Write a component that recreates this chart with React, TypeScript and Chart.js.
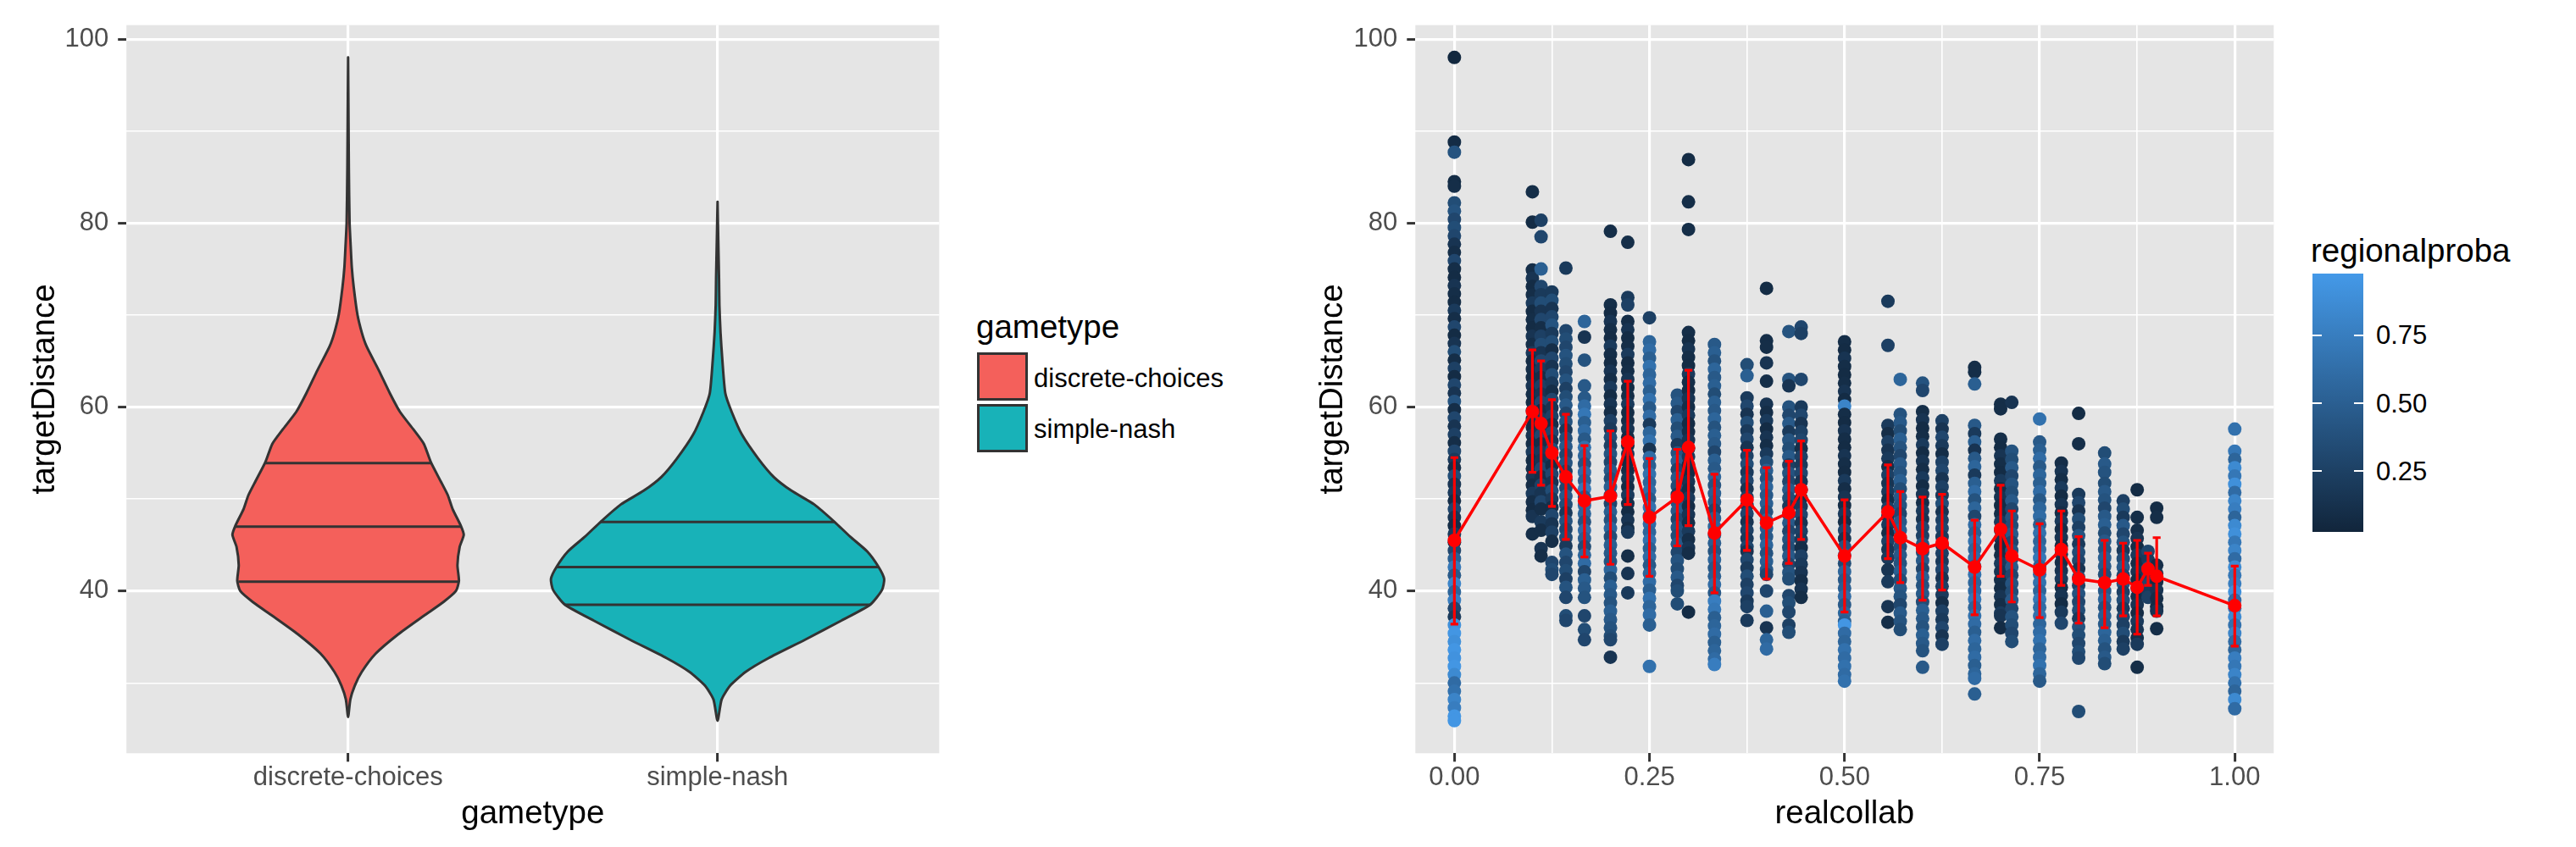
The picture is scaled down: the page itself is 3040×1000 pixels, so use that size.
import React, { useEffect, useRef } from 'react';
import { Chart, registerables } from 'chart.js';

Chart.register(...registerables);

const FONT = "'Liberation Sans', Arial, Helvetica, sans-serif";
const TICK_COLOR = '#4D4D4D';
const OUTLINE = '#333333';
const PANEL_BG = '#E5E5E5';
const MAJOR_W = 3.2;
const MINOR_W = 1.6;

// ---------- shared y axis ----------
const Y_MIN = 22.36;
const Y_MAX = 101.52;
const yGridValues = [30, 40, 50, 60, 70, 80, 90, 100];
const yLabelValues = [40, 60, 80, 100];

// ---------- left panel: violins ----------
const gameTypes = ['discrete-choices', 'simple-nash'];
const violinColors = ['#F4605B', '#18B2B8'];

const dcDensityY = [98.0, 92.0, 86.0, 80.0, 77.5, 75.2, 73.1, 70.1, 68.1, 66.6, 64.0, 61.5, 59.5, 57.5, 56.0, 54.0, 51.9, 50.4, 48.9, 47.1, 46.1, 44.8, 42.8, 41.1, 40.0, 38.8, 37.3, 35.3, 33.2, 31.2, 29.7, 28.2, 26.3];
const dcHalfWidth = [0.0, 0.001, 0.002, 0.004, 0.007, 0.010, 0.015, 0.025, 0.037, 0.050, 0.083, 0.113, 0.140, 0.178, 0.205, 0.224, 0.251, 0.270, 0.283, 0.305, 0.313, 0.302, 0.296, 0.300, 0.292, 0.258, 0.205, 0.136, 0.075, 0.037, 0.018, 0.006, 0.0];
const dcQuantiles = [53.9, 47.0, 41.0];
const dcQuantileHW = [0.224, 0.307, 0.297];

const snDensityY = [82.3, 78.0, 74.0, 71.1, 68.1, 65.1, 61.5, 59.5, 57.0, 54.4, 52.4, 50.9, 49.4, 47.5, 45.9, 44.3, 42.6, 41.3, 40.1, 38.5, 36.8, 34.7, 32.7, 31.2, 29.7, 28.2, 25.9];
const snHalfWidth = [0.0, 0.002, 0.004, 0.005, 0.008, 0.013, 0.021, 0.038, 0.066, 0.110, 0.152, 0.200, 0.262, 0.317, 0.359, 0.405, 0.436, 0.451, 0.445, 0.413, 0.336, 0.237, 0.138, 0.076, 0.034, 0.011, 0.0];
const snQuantiles = [47.5, 42.6, 38.5];
const snQuantileHW = [0.317, 0.436, 0.413];

// ---------- right panel: scatter ----------
const xGridValues = [0, 0.125, 0.25, 0.375, 0.5, 0.625, 0.75, 0.875, 1];
const xLabelValues = [0, 0.25, 0.5, 0.75, 1];

const collabLevels = [0, 0.1, 0.1111, 0.125, 0.1429, 0.1667, 0.2, 0.2222, 0.25, 0.2857, 0.3, 0.3333, 0.375, 0.4, 0.4286, 0.4444, 0.5, 0.5556, 0.5714, 0.6, 0.625, 0.6667, 0.7, 0.7143, 0.75, 0.7778, 0.8, 0.8333, 0.8571, 0.875, 0.8889, 0.9, 1];

// [targetDistance, regionalproba] per collab level
const pointsByLevel: number[][][] = [
  [[98.0,.05],[88.8,.08],[87.7,.4],[84.5,.08],[84.0,.1],[82.2,.35],[81.3,.4],[80.4,.3],[79.5,.35],[78.6,.3],[77.7,.15],[76.8,.1],[75.9,.3],[75.0,.1],[74.1,.08],[73.2,.15],[72.3,.1],[71.4,.08],[70.5,.2],[69.6,.1],[68.7,.3],[67.8,.08],[66.9,.15],[66.0,.35],[65.1,.1],[64.2,.25],[63.3,.08],[62.4,.3],[61.5,.15],[60.6,.4],[59.7,.1],[58.8,.3],[57.9,.15],[57.0,.25],[56.1,.1],[55.2,.3],[54.3,.2],[53.4,.1],[52.5,.35],[51.6,.15],[50.7,.2],[49.8,.1],[48.9,.3],[48.0,.15],[47.1,.08],[46.2,.2],[45.3,.1],[44.4,.3],[43.5,.5],[42.6,.7],[41.7,.45],[40.8,.8],[39.9,.55],[39.0,.75],[38.1,.3],[37.2,.2],[36.3,.9],[35.4,.95],[34.5,.9],[33.6,.95],[32.7,.92],[31.8,.95],[30.9,.85],[30.0,.6],[29.1,.65],[28.2,.8],[27.3,.75],[26.4,.95],[25.9,.95]],
  [[83.4,.1],[80.1,.08],[74.9,.1],[74.0,.15],[73.1,.08],[72.2,.1],[71.3,.2],[70.4,.08],[69.5,.1],[68.6,.08],[67.7,.15],[66.8,.1],[65.9,.2],[65.0,.08],[64.1,.1],[63.2,.08],[62.3,.15],[61.4,.1],[60.5,.08],[59.6,.2],[58.7,.1],[57.8,.08],[56.9,.15],[56.0,.1],[55.1,.2],[54.2,.08],[53.3,.1],[52.4,.15],[51.5,.08],[50.6,.2],[49.7,.1],[48.8,.08],[48.1,.15],[46.2,.1]],
  [[80.3,.25],[78.5,.3],[75.0,.5],[73.1,.3],[72.2,.2],[71.3,.35],[70.4,.15],[69.5,.3],[68.6,.1],[67.7,.25],[66.8,.35],[65.9,.15],[65.0,.3],[64.1,.2],[63.2,.1],[62.3,.25],[61.4,.15],[60.5,.3],[59.6,.1],[58.7,.2],[57.8,.15],[56.9,.3],[56.0,.1],[55.1,.2],[54.2,.15],[53.3,.3],[52.4,.1],[51.5,.25],[50.6,.15],[49.7,.3],[48.9,.1],[47.5,.2],[46.6,.1],[44.6,.15],[43.8,.1]],
  [[72.5,.2],[71.6,.35],[70.7,.15],[69.8,.3],[68.9,.4],[68.0,.2],[67.1,.35],[66.2,.1],[65.3,.3],[64.4,.15],[63.5,.35],[62.6,.2],[61.7,.1],[60.8,.3],[59.9,.15],[59.0,.25],[58.1,.1],[57.2,.3],[56.3,.15],[55.4,.35],[54.5,.2],[53.6,.1],[52.7,.3],[51.8,.15],[50.9,.35],[50.0,.2],[49.1,.1],[48.2,.3],[47.3,.15],[46.4,.25],[45.4,.1],[43.1,.3],[42.3,.35],[41.8,.3]],
  [[75.1,.2],[68.3,.3],[67.4,.35],[66.5,.3],[65.6,.4],[64.7,.35],[63.8,.3],[62.9,.4],[62.0,.25],[61.1,.35],[60.2,.45],[59.3,.3],[58.4,.4],[57.5,.2],[56.6,.35],[55.7,.45],[54.8,.3],[53.9,.4],[53.0,.25],[52.1,.35],[51.2,.3],[50.3,.45],[49.4,.35],[48.5,.2],[47.6,.4],[46.7,.3],[45.8,.35],[44.9,.2],[44.0,.4],[43.1,.3],[42.2,.35],[41.3,.25],[40.4,.4],[39.3,.3],[37.3,.35],[36.8,.3]],
  [[69.3,.55],[67.6,.15],[65.1,.4],[62.3,.45],[61.0,.45],[60.1,.6],[59.2,.7],[58.3,.5],[57.4,.6],[56.5,.45],[55.6,.65],[54.7,.55],[53.8,.4],[52.9,.6],[52.0,.5],[51.1,.7],[50.2,.45],[49.3,.6],[48.4,.55],[47.5,.4],[46.6,.6],[45.7,.5],[44.8,.35],[43.9,.55],[43.0,.6],[42.1,.3],[41.2,.5],[40.3,.45],[39.3,.4],[37.3,.3],[35.8,.35],[34.7,.3]],
  [[79.1,.1],[71.1,.1],[70.2,.08],[69.3,.15],[68.4,.1],[67.5,.08],[66.6,.2],[65.7,.1],[64.8,.08],[63.9,.15],[63.0,.1],[62.1,.2],[61.2,.08],[60.3,.15],[59.4,.1],[58.5,.25],[57.6,.2],[56.7,.35],[55.8,.25],[54.9,.4],[54.0,.3],[53.1,.45],[52.2,.35],[51.3,.5],[50.4,.4],[49.5,.3],[48.6,.5],[47.7,.4],[46.8,.55],[45.9,.35],[45.0,.5],[44.1,.45],[43.2,.4],[42.3,.55],[41.4,.35],[40.5,.5],[39.6,.45],[38.7,.4],[37.8,.5],[36.9,.45],[36.0,.4],[35.1,.35],[34.7,.3],[32.8,.15]],
  [[77.9,.1],[71.9,.2],[71.1,.25],[69.3,.1],[68.4,.15],[67.5,.08],[66.6,.1],[65.7,.2],[64.8,.08],[63.9,.1],[63.0,.15],[62.1,.08],[61.2,.1],[60.3,.2],[59.4,.08],[58.5,.1],[57.6,.15],[56.7,.08],[55.8,.1],[54.9,.2],[54.0,.08],[53.1,.1],[52.2,.15],[51.3,.08],[50.4,.2],[49.5,.1],[48.6,.08],[47.7,.15],[46.8,.1],[46.4,.2],[43.8,.1],[41.9,.15],[39.8,.2]],
  [[69.7,.25],[67.1,.55],[66.2,.6],[65.3,.5],[64.4,.65],[63.5,.55],[62.6,.6],[61.7,.5],[60.8,.65],[59.9,.45],[59.0,.6],[58.1,.2],[57.2,.55],[56.3,.65],[55.4,.15],[54.5,.6],[53.6,.5],[52.7,.65],[51.8,.55],[50.9,.6],[50.0,.45],[49.1,.65],[48.2,.5],[47.3,.6],[46.4,.55],[45.5,.65],[44.6,.5],[43.7,.6],[42.8,.45],[41.9,.55],[41.0,.6],[40.1,.5],[39.2,.65],[38.3,.55],[37.4,.6],[36.3,.5],[31.8,.65]],
  [[61.3,.4],[60.4,.45],[59.5,.3],[58.6,.5],[57.7,.35],[56.8,.45],[55.9,.2],[55.0,.4],[54.1,.5],[53.2,.3],[52.3,.45],[51.4,.35],[50.5,.2],[49.6,.4],[48.7,.45],[47.8,.3],[46.9,.4],[46.0,.35],[45.1,.45],[44.2,.3],[43.3,.4],[42.4,.35],[41.5,.45],[40.6,.3],[40.0,.35],[38.6,.35]],
  [[86.9,.08],[82.3,.1],[79.3,.1],[68.1,.1],[67.2,.08],[66.3,.15],[65.4,.1],[64.5,.08],[63.6,.2],[62.7,.1],[61.8,.08],[60.9,.15],[60.0,.1],[59.1,.2],[58.2,.08],[57.3,.1],[56.4,.15],[55.5,.08],[54.6,.2],[53.7,.1],[52.8,.08],[51.9,.15],[51.0,.1],[50.1,.2],[49.2,.08],[48.3,.15],[47.4,.1],[46.5,.2],[45.6,.1],[44.7,.15],[44.1,.1],[37.7,.08]],
  [[66.8,.45],[65.9,.5],[65.0,.4],[64.1,.55],[63.2,.45],[62.3,.5],[61.4,.35],[60.5,.5],[59.6,.45],[58.7,.55],[57.8,.4],[56.9,.5],[56.0,.45],[55.1,.3],[54.2,.5],[53.3,.45],[52.4,.55],[51.5,.4],[50.6,.5],[49.7,.45],[48.8,.3],[47.9,.5],[47.0,.55],[46.1,.45],[45.2,.5],[44.3,.4],[43.4,.55],[42.5,.45],[41.6,.5],[40.7,.6],[39.8,.45],[38.9,.75],[38.0,.7],[37.1,.5],[36.2,.55],[35.3,.6],[34.4,.5],[33.5,.55],[32.6,.6],[32.0,.75]],
  [[64.6,.35],[63.4,.5],[61.0,.2],[60.1,.3],[59.2,.15],[58.3,.35],[57.4,.2],[56.5,.3],[55.6,.15],[54.7,.25],[53.8,.35],[52.9,.2],[52.0,.3],[51.1,.15],[50.2,.25],[49.3,.2],[48.4,.3],[47.5,.15],[46.6,.25],[45.7,.2],[44.8,.3],[44.3,.15],[43.4,.3],[42.5,.2],[41.6,.35],[40.7,.25],[39.8,.3],[38.9,.2],[38.3,.25],[36.8,.2]],
  [[72.9,.08],[67.2,.1],[66.5,.1],[64.8,.15],[62.8,.1],[60.3,.15],[59.4,.1],[58.5,.2],[57.6,.08],[56.7,.15],[55.8,.1],[54.9,.2],[54.0,.35],[53.1,.5],[52.2,.4],[51.3,.55],[50.4,.45],[49.5,.5],[48.6,.4],[47.7,.55],[46.8,.5],[45.9,.45],[45.0,.55],[44.1,.4],[43.2,.5],[42.3,.45],[41.8,.3],[40.0,.3],[37.8,.5],[36.0,.15],[34.7,.55],[33.7,.6]],
  [[68.2,.4],[63.0,.4],[62.3,.15],[60.0,.4],[59.1,.3],[58.2,.45],[57.3,.2],[56.4,.4],[55.5,.35],[54.6,.45],[53.7,.25],[52.8,.4],[51.9,.3],[51.0,.45],[50.1,.35],[49.2,.2],[48.3,.4],[47.4,.45],[46.5,.3],[45.6,.4],[44.7,.35],[43.8,.45],[42.9,.3],[42.0,.4],[41.3,.35],[39.5,.3],[38.7,.35],[37.7,.3],[36.3,.25],[35.5,.35]],
  [[68.7,.3],[68.0,.25],[63.0,.3],[60.0,.2],[59.1,.3],[58.2,.15],[57.3,.25],[56.4,.3],[55.5,.1],[54.6,.25],[53.7,.2],[52.8,.3],[51.9,.15],[51.0,.25],[50.1,.1],[49.2,.2],[48.3,.3],[47.4,.15],[46.5,.25],[45.6,.2],[44.7,.1],[43.8,.25],[42.9,.2],[42.0,.15],[41.1,.1],[40.2,.15],[39.3,.1]],
  [[67.1,.1],[66.2,.08],[65.3,.15],[64.4,.1],[63.5,.08],[62.6,.1],[61.7,.15],[60.8,.08],[60.1,.8],[59.2,.1],[58.3,.08],[57.4,.15],[56.5,.1],[55.6,.08],[54.7,.15],[53.8,.1],[52.9,.08],[52.0,.2],[51.1,.1],[50.2,.15],[49.3,.08],[48.4,.2],[47.5,.1],[46.6,.3],[45.7,.15],[44.8,.4],[43.9,.5],[43.0,.35],[42.1,.55],[41.2,.45],[40.3,.5],[39.4,.6],[38.5,.45],[37.6,.55],[36.7,.5],[36.3,.95],[35.4,.6],[34.5,.55],[33.6,.65],[32.7,.6],[31.8,.65],[30.9,.6],[30.2,.65]],
  [[71.5,.2],[66.7,.25],[58.0,.2],[57.1,.1],[56.2,.25],[55.3,.15],[54.4,.2],[53.5,.1],[52.6,.25],[51.7,.15],[50.8,.2],[49.9,.1],[49.0,.25],[48.1,.15],[47.2,.2],[46.3,.1],[45.4,.25],[44.5,.15],[43.6,.2],[42.3,.15],[41.0,.2],[38.3,.15],[36.6,.1]],
  [[63.0,.55],[59.2,.4],[58.3,.45],[57.4,.35],[56.5,.5],[55.6,.4],[54.7,.3],[53.8,.45],[52.9,.4],[52.0,.5],[51.1,.35],[50.2,.45],[49.3,.4],[48.4,.3],[47.5,.45],[46.6,.5],[45.7,.4],[44.8,.35],[43.9,.45],[43.0,.4],[42.1,.5],[41.2,.35],[40.3,.45],[39.4,.4],[38.5,.3],[37.6,.45],[36.7,.4],[35.8,.35]],
  [[62.6,.4],[61.8,.3],[59.5,.1],[58.6,.15],[57.7,.08],[56.8,.1],[55.9,.2],[55.0,.08],[54.1,.15],[53.2,.1],[52.3,.2],[51.4,.08],[50.5,.15],[49.6,.1],[48.7,.2],[47.8,.15],[46.9,.3],[46.0,.25],[45.1,.4],[44.2,.35],[43.3,.45],[42.4,.3],[41.5,.5],[40.6,.4],[39.7,.45],[38.8,.35],[37.9,.5],[37.0,.45],[36.1,.4],[35.2,.5],[34.3,.45],[33.5,.4],[31.7,.45]],
  [[58.5,.25],[57.6,.15],[56.7,.3],[55.8,.2],[54.9,.1],[54.0,.25],[53.1,.3],[52.2,.15],[51.3,.25],[50.4,.2],[49.5,.35],[48.6,.15],[47.7,.25],[46.8,.3],[45.9,.2],[45.0,.1],[44.1,.25],[43.2,.2],[42.3,.3],[41.4,.15],[40.5,.25],[39.6,.2],[38.7,.1],[37.8,.25],[36.9,.2],[36.0,.3],[35.1,.15],[34.2,.25]],
  [[64.3,.1],[63.8,.1],[62.5,.5],[58.0,.45],[57.1,.2],[56.2,.5],[55.3,.15],[54.4,.45],[53.5,.55],[52.6,.2],[51.7,.5],[50.8,.6],[49.9,.4],[49.0,.55],[48.1,.3],[47.2,.6],[46.3,.5],[45.4,.65],[44.5,.55],[43.6,.6],[42.7,.5],[41.8,.65],[40.9,.55],[40.0,.6],[39.1,.7],[38.2,.55],[37.3,.65],[36.4,.6],[35.5,.5],[34.6,.6],[33.7,.55],[32.8,.6],[31.9,.5],[31.0,.55],[30.5,.6],[28.8,.5]],
  [[60.3,.1],[59.8,.1],[56.5,.1],[55.6,.08],[54.7,.15],[53.8,.1],[52.9,.08],[52.0,.2],[51.1,.1],[50.2,.15],[49.3,.08],[48.4,.1],[47.5,.2],[46.6,.1],[45.7,.15],[44.8,.08],[43.9,.1],[43.0,.2],[42.1,.15],[41.2,.1],[40.3,.08],[39.4,.15],[38.5,.1],[37.6,.2],[37.3,.15],[36.0,.08]],
  [[60.5,.15],[55.2,.4],[54.3,.35],[53.4,.45],[52.5,.3],[51.6,.4],[50.7,.35],[49.8,.45],[48.9,.3],[48.0,.4],[47.1,.35],[46.2,.45],[45.3,.3],[44.4,.4],[43.5,.35],[42.6,.45],[41.7,.3],[40.8,.4],[39.9,.35],[39.0,.45],[38.1,.3],[37.2,.4],[36.3,.35],[35.4,.3],[34.5,.35]],
  [[58.7,.65],[56.2,.45],[55.3,.5],[54.4,.6],[53.5,.45],[52.6,.55],[51.7,.5],[50.8,.6],[49.9,.45],[49.0,.55],[48.1,.6],[47.2,.5],[46.3,.65],[45.4,.55],[44.5,.6],[43.6,.7],[42.7,.55],[41.8,.6],[40.9,.65],[40.0,.55],[39.1,.7],[38.2,.6],[37.3,.65],[36.4,.55],[35.5,.6],[34.6,.65],[33.7,.55],[32.8,.6],[31.9,.65],[31.0,.55],[30.2,.45]],
  [[53.9,.1],[53.0,.15],[52.1,.1],[51.2,.2],[50.3,.08],[49.4,.15],[48.5,.1],[47.6,.2],[46.7,.1],[45.8,.15],[44.9,.08],[44.0,.2],[43.1,.1],[42.2,.15],[41.3,.2],[40.4,.1],[39.5,.15],[38.6,.08],[37.7,.2],[36.5,.3]],
  [[59.3,.08],[56.0,.1],[50.5,.2],[49.6,.3],[48.7,.15],[47.8,.35],[46.9,.25],[46.0,.4],[45.1,.2],[44.2,.35],[43.3,.3],[42.4,.15],[41.5,.35],[40.6,.25],[39.7,.4],[38.8,.3],[37.9,.35],[37.0,.2],[36.1,.4],[35.2,.35],[34.3,.3],[33.4,.35],[32.7,.3],[26.9,.35]],
  [[55.0,.35],[53.8,.45],[52.9,.4],[51.7,.35],[50.8,.45],[49.9,.4],[49.0,.3],[48.1,.45],[47.2,.5],[46.3,.35],[45.4,.45],[44.5,.4],[43.6,.5],[42.7,.45],[41.8,.35],[40.9,.5],[40.0,.45],[39.1,.55],[38.2,.4],[37.3,.5],[36.4,.45],[35.5,.55],[34.6,.5],[33.7,.4],[32.8,.45],[32.1,.35]],
  [[49.8,.25],[48.9,.35],[48.0,.2],[47.1,.45],[46.2,.3],[45.3,.4],[44.4,.2],[43.5,.35],[42.6,.45],[41.7,.3],[40.8,.4],[39.9,.25],[39.0,.35],[38.1,.2],[37.2,.3],[36.3,.25],[35.4,.35],[34.5,.2],[33.7,.25]],
  [[51.0,.08],[48.0,.1],[46.6,.1],[45.7,.15],[44.8,.08],[43.9,.2],[43.0,.1],[42.1,.15],[41.2,.08],[40.3,.2],[39.4,.1],[38.5,.15],[37.6,.08],[36.7,.2],[35.8,.15],[34.9,.1],[34.2,.2],[31.7,.1]],
  [[44.3,.3],[43.4,.2],[42.5,.35],[41.6,.25],[40.7,.3],[39.8,.2],[39.3,.25]],
  [[49.0,.08],[48.0,.1],[42.8,.1],[41.9,.15],[41.0,.08],[40.1,.15],[39.2,.1],[38.3,.08],[37.8,.15],[35.9,.1]],
  [[57.6,.65],[55.2,.7],[54.3,.55],[53.4,.85],[52.5,.7],[51.6,.9],[50.7,.6],[49.8,.8],[48.9,.75],[48.0,.55],[47.1,.85],[46.2,.9],[45.3,.7],[44.4,.8],[43.5,.6],[42.6,.85],[41.7,.7],[40.8,.75],[39.9,.9],[39.0,.6],[38.1,.7],[37.2,.85],[36.3,.65],[35.4,.8],[34.5,.6],[33.6,.55],[32.7,.75],[31.8,.7],[30.9,.8],[30.0,.65],[29.1,.55],[28.2,.85],[27.2,.6]],
];

const meanDistance = [45.5, 59.5, 58.2, 55.0, 52.4, 49.8, 50.3, 56.2, 48.0, 50.2, 55.6, 46.3, 49.9, 47.4, 48.5, 51.0, 43.8, 48.6, 45.8, 44.6, 45.2, 42.6, 46.7, 43.8, 42.3, 44.5, 41.3, 40.9, 41.3, 40.4, 42.4, 41.6, 38.4];
const errLow = [36.4, 52.9, 51.5, 49.2, 45.6, 43.7, 42.9, 49.4, 41.6, 44.9, 47.1, 39.8, 44.4, 41.3, 43.0, 45.6, 37.7, 43.5, 40.9, 39.0, 40.1, 37.4, 41.6, 38.8, 37.1, 40.6, 36.5, 36.0, 37.3, 35.3, 40.6, 37.3, 34.0];
const errHigh = [54.5, 66.2, 65.0, 60.8, 59.2, 55.8, 57.4, 62.8, 54.4, 55.4, 64.0, 52.7, 55.3, 53.4, 54.1, 56.3, 49.9, 53.7, 50.8, 50.2, 50.5, 47.7, 51.5, 48.7, 47.3, 48.7, 45.9, 45.5, 45.2, 45.5, 44.1, 45.8, 42.7];

const probaTicks = [0.25, 0.5, 0.75];
const P_LOW = 0.026;
const P_HIGH = 0.976;
const LOW_RGB = [17, 37, 59];
const HIGH_RGB = [68, 153, 232];

function probaColor(p: number): string {
  const t = Math.max(0, Math.min(1, (p - P_LOW) / (P_HIGH - P_LOW)));
  const c = LOW_RGB.map((lo, i) => Math.round(lo + (HIGH_RGB[i] - lo) * t));
  return `rgb(${c[0]},${c[1]},${c[2]})`;
}
const rgbStr = (c: number[]) => `rgb(${c[0]},${c[1]},${c[2]})`;

// ---------- helpers ----------
const panelBackground = {
  id: 'panelBackground',
  beforeDraw(chart: any) {
    const { ctx, chartArea: a } = chart;
    ctx.save();
    ctx.fillStyle = PANEL_BG;
    ctx.fillRect(a.left, a.top, a.right - a.left, a.bottom - a.top);
    ctx.restore();
  },
};

const tickFont = { family: FONT, size: 31 };
const titleFont = { family: FONT, size: 38.5 };

function yAxis(width: number) {
  return {
    type: 'linear',
    min: Y_MIN,
    max: Y_MAX,
    afterBuildTicks: (s: any) => {
      s.ticks = yGridValues.map((v) => ({ value: v }));
    },
    afterFit: (s: any) => {
      s.width = width;
    },
    ticks: {
      autoSkip: false,
      padding: 11,
      color: TICK_COLOR,
      font: tickFont,
      callback: (v: number) => (yLabelValues.includes(v) ? String(v) : ''),
    },
    grid: {
      color: '#FFFFFF',
      lineWidth: (c: any) => (c.tick && yLabelValues.includes(c.tick.value) ? MAJOR_W : MINOR_W),
      tickColor: (c: any) => (c.tick && yLabelValues.includes(c.tick.value) ? OUTLINE : 'rgba(0,0,0,0)'),
      tickLength: 10,
      tickWidth: 3,
    },
    border: { display: false },
    title: {
      display: true,
      text: 'targetDistance',
      color: '#000000',
      font: titleFont,
      padding: { top: 30, bottom: 0 },
    },
  };
}

function baseOptions(rightPad: number) {
  return {
    responsive: false,
    maintainAspectRatio: false,
    animation: false,
    devicePixelRatio: 1,
    events: [],
    layout: { padding: { top: 19.3, right: rightPad, bottom: 0, left: 0 } },
    plugins: {
      legend: { display: false },
      tooltip: { enabled: false },
    },
  };
}

function violinOutline(center: number, ys: number[], hws: number[]) {
  const right = ys.map((y, i) => ({ x: center + hws[i], y }));
  const left = ys.map((y, i) => ({ x: center - hws[i], y })).reverse();
  return right.concat(left.slice(1));
}

function quantileSegments(center: number, qs: number[], hws: number[]) {
  return qs.flatMap((q, i) => [
    { x: center - hws[i], y: q },
    { x: center + hws[i], y: q },
    { x: center, y: null },
  ]);
}

function leftConfig(): any {
  return {
    type: 'scatter',
    data: {
      datasets: [
        {
          label: gameTypes[0],
          data: violinOutline(1, dcDensityY, dcHalfWidth),
          showLine: true,
          fill: 'shape',
          backgroundColor: violinColors[0],
          borderColor: OUTLINE,
          borderWidth: 3,
          borderJoinStyle: 'round',
          borderCapStyle: 'round',
          pointRadius: 0,
          tension: 0.2,
          order: 2,
        },
        {
          label: gameTypes[1],
          data: violinOutline(2, snDensityY, snHalfWidth),
          showLine: true,
          fill: 'shape',
          backgroundColor: violinColors[1],
          borderColor: OUTLINE,
          borderWidth: 3,
          borderJoinStyle: 'round',
          borderCapStyle: 'round',
          pointRadius: 0,
          tension: 0.2,
          order: 2,
        },
        {
          label: 'quantiles',
          data: quantileSegments(1, dcQuantiles, dcQuantileHW).concat(quantileSegments(2, snQuantiles, snQuantileHW)),
          showLine: true,
          fill: false,
          borderColor: OUTLINE,
          borderWidth: 3,
          pointRadius: 0,
          order: 1,
        },
      ],
    },
    options: {
      ...baseOptions(31.6),
      scales: {
        x: {
          type: 'linear',
          min: 0.4,
          max: 2.6,
          afterBuildTicks: (s: any) => {
            s.ticks = [1, 2].map((v) => ({ value: v }));
          },
          afterFit: (s: any) => {
            s.height = 110.7;
          },
          ticks: {
            autoSkip: false,
            maxRotation: 0,
            minRotation: 0,
            padding: 1,
            color: TICK_COLOR,
            font: tickFont,
            callback: (v: number) => gameTypes[Math.round(v) - 1] ?? '',
          },
          grid: { color: '#FFFFFF', lineWidth: MAJOR_W, tickColor: OUTLINE, tickLength: 10, tickWidth: 3 },
          border: { display: false },
          title: { display: true, text: 'gametype', color: '#000000', font: titleFont, padding: { top: 0, bottom: 16 } },
        },
        y: yAxis(149.2),
      },
    },
    plugins: [panelBackground],
  };
}

function rightConfig(): any {
  const scatterData: { x: number; y: number }[] = [];
  const scatterColors: string[] = [];
  collabLevels.forEach((x, i) => {
    pointsByLevel[i].forEach(([y, p]) => {
      scatterData.push({ x, y });
      scatterColors.push(probaColor(p));
    });
  });
  const CAP = 0.005;
  const errorData = collabLevels.flatMap((x, i) => [
    { x, y: errLow[i] },
    { x, y: errHigh[i] },
    { x, y: null },
    { x: x - CAP, y: errHigh[i] },
    { x: x + CAP, y: errHigh[i] },
    { x, y: null },
    { x: x - CAP, y: errLow[i] },
    { x: x + CAP, y: errLow[i] },
    { x, y: null },
  ]);
  const meanData = collabLevels.map((x, i) => ({ x, y: meanDistance[i] }));
  return {
    type: 'scatter',
    data: {
      datasets: [
        {
          label: 'targetDistance',
          data: scatterData,
          backgroundColor: scatterColors,
          pointBackgroundColor: scatterColors,
          pointBorderWidth: 0,
          borderWidth: 0,
          pointRadius: 8,
          order: 3,
        },
        {
          label: 'errorbars',
          data: errorData,
          showLine: true,
          borderColor: '#FF0000',
          borderWidth: 3.2,
          pointRadius: 0,
          fill: false,
          order: 2,
        },
        {
          label: 'mean',
          data: meanData,
          showLine: true,
          borderColor: '#FF0000',
          borderWidth: 3.5,
          backgroundColor: '#FF0000',
          pointBackgroundColor: '#FF0000',
          pointBorderWidth: 0,
          pointRadius: 8,
          tension: 0,
          fill: false,
          order: 1,
        },
      ],
    },
    options: {
      ...baseOptions(36.7),
      scales: {
        x: {
          type: 'linear',
          min: -0.05,
          max: 1.05,
          afterBuildTicks: (s: any) => {
            s.ticks = xGridValues.map((v) => ({ value: v }));
          },
          afterFit: (s: any) => {
            s.height = 110.7;
          },
          ticks: {
            autoSkip: false,
            maxRotation: 0,
            minRotation: 0,
            padding: 1,
            color: TICK_COLOR,
            font: tickFont,
            callback: (v: number) => (xLabelValues.includes(v) ? v.toFixed(2) : ''),
          },
          grid: {
            color: '#FFFFFF',
            lineWidth: (c: any) => (c.tick && xLabelValues.includes(c.tick.value) ? MAJOR_W : MINOR_W),
            tickColor: (c: any) => (c.tick && xLabelValues.includes(c.tick.value) ? OUTLINE : 'rgba(0,0,0,0)'),
            tickLength: 10,
            tickWidth: 3,
          },
          border: { display: false },
          title: { display: true, text: 'realcollab', color: '#000000', font: titleFont, padding: { top: 0, bottom: 16 } },
        },
        y: yAxis(150.3),
      },
    },
    plugins: [panelBackground],
  };
}

const abs = (s: any) => ({ position: 'absolute', whiteSpace: 'nowrap', margin: 0, padding: 0, ...s });

export default function App() {
  const leftRef = useRef<HTMLCanvasElement>(null);
  const rightRef = useRef<HTMLCanvasElement>(null);

  useEffect(() => {
    const c1 = new Chart(leftRef.current as HTMLCanvasElement, leftConfig());
    const c2 = new Chart(rightRef.current as HTMLCanvasElement, rightConfig());
    return () => {
      c1.destroy();
      c2.destroy();
    };
  }, []);

  const barTop = 323;
  const barBottom = 628;
  const barPix = (p: number) => barBottom - ((p - P_LOW) / (P_HIGH - P_LOW)) * (barBottom - barTop);

  return (
    <div style={abs({ left: 0, top: 0, width: 3040, height: 1000, background: '#FFFFFF', fontFamily: FONT, overflow: 'hidden' })}>
      <canvas ref={leftRef} width={1140} height={1000} style={abs({ left: 0, top: 0, width: 1140, height: 1000 })} />
      <canvas ref={rightRef} width={1200} height={1000} style={abs({ left: 1520, top: 0, width: 1200, height: 1000 })} />

      {/* gametype legend */}
      <div style={abs({ left: 1152, top: 367, fontSize: 38.5, lineHeight: '38.5px', color: '#000' })}>gametype</div>
      {gameTypes.map((g, i) => (
        <React.Fragment key={g}>
          <div
            style={abs({
              left: 1153,
              top: 416 + i * 60.6,
              width: 60,
              height: 57.3,
              boxSizing: 'border-box',
              border: `3px solid ${OUTLINE}`,
              background: violinColors[i],
            })}
          />
          <div style={abs({ left: 1220, top: 430.5 + i * 60.6, fontSize: 31, lineHeight: '31px', color: '#000' })}>{g}</div>
        </React.Fragment>
      ))}

      {/* regionalproba colourbar */}
      <div style={abs({ left: 2727, top: 277, fontSize: 38.5, lineHeight: '38.5px', color: '#000' })}>regionalproba</div>
      <div
        style={abs({
          left: 2729,
          top: barTop,
          width: 60,
          height: barBottom - barTop,
          background: `linear-gradient(to top, ${rgbStr(LOW_RGB)}, ${rgbStr(HIGH_RGB)})`,
        })}
      />
      {probaTicks.map((p) => (
        <React.Fragment key={p}>
          <div style={abs({ left: 2729, top: barPix(p) - 1, width: 11, height: 2, background: '#FFFFFF' })} />
          <div style={abs({ left: 2778, top: barPix(p) - 1, width: 11, height: 2, background: '#FFFFFF' })} />
          <div style={abs({ left: 2804, top: barPix(p) - 15.2, fontSize: 31, lineHeight: '31px', color: '#000' })}>
            {p.toFixed(2)}
          </div>
        </React.Fragment>
      ))}
    </div>
  );
}
